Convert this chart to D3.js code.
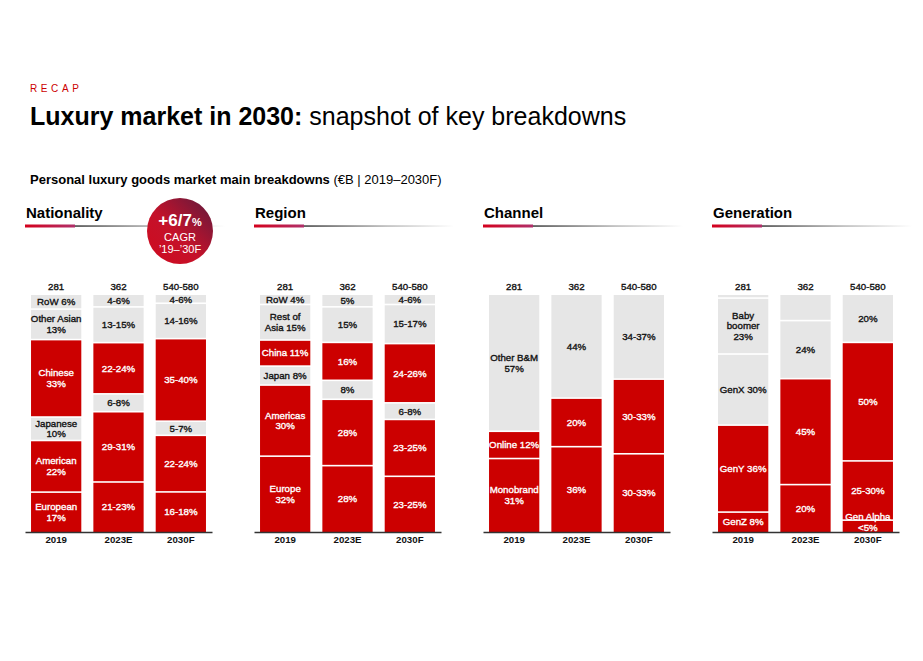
<!DOCTYPE html>
<html><head><meta charset="utf-8">
<script src="https://cdn.jsdelivr.net/npm/d3@7/dist/d3.min.js"></script>
<style>
body{margin:0;background:#fff;}
svg{font-family:"Liberation Sans",Arial,sans-serif;}
</style></head>
<body><svg id="chart" width="923" height="661"></svg>
<script>
// ---------- DATA ----------
const years = ["2019", "2023E", "2030F"];
const totals = ["281", "362", "540-580"];
const panels = ["Nationality", "Region", "Channel", "Generation"];
const redCategories = ["European","American","Chinese","Europe","Americas","China","Monobrand","Online","Gen Alpha","GenZ","GenY"];

// segments listed bottom -> top for each year
const nationalityCats = [
  ["European","American","Japanese","Chinese","Other Asian","RoW"],
  ["European","American","Japanese","Chinese","Other Asian","RoW"],
  ["European","American","Japanese","Chinese","Other Asian","RoW"]
];
const nationalityValues = [
  [17, 22, 10, 33, 13, 6],
  [21, 29.5, 7.5, 21.5, 15, 5],
  [17, 24, 6, 35, 15, 3.5]
];
const nationalityLabels = [
  ["European\n17%","American\n22%","Japanese\n10%","Chinese\n33%","Other Asian\n13%","RoW 6%"],
  ["21-23%","29-31%","6-8%","22-24%","13-15%","4-6%"],
  ["16-18%","22-24%","5-7%","35-40%","14-16%","4-6%"]
];

const regionCats = [
  ["Europe","Americas","Japan","China","Rest of Asia","RoW"],
  ["Europe","Americas","Japan","China","Rest of Asia","RoW"],
  ["Europe","Americas","Japan","China","Rest of Asia","RoW"]
];
const regionValues = [
  [32, 30, 8, 11, 15, 4],
  [28, 28, 8, 16, 15, 5],
  [23.5, 24, 7, 25, 16.5, 4]
];
const regionLabels = [
  ["Europe\n32%","Americas\n30%","Japan 8%","China 11%","Rest of\nAsia 15%","RoW 4%"],
  ["28%","28%","8%","16%","15%","5%"],
  ["23-25%","23-25%","6-8%","24-26%","15-17%","4-6%"]
];

const channelCats = [
  ["Monobrand","Online","Other B&M"],
  ["Monobrand","Online","Other B&M"],
  ["Monobrand","Online","Other B&M"]
];
const channelValues = [
  [31, 11.5, 57.5],
  [36, 20.5, 43.5],
  [33, 31.5, 35.5]
];
const channelLabels = [
  ["Monobrand\n31%","Online 12%","Other B&M\n57%"],
  ["36%","20%","44%"],
  ["30-33%","30-33%","34-37%"]
];

const generationCats = [
  ["GenZ","GenY","GenX","Baby boomer","Silent"],
  ["GenZ","GenY","GenX","Baby boomer"],
  ["Gen Alpha","GenZ","GenY","GenX"]
];
const generationValues = [
  [8.4, 36.7, 30, 23.6, 1.3],
  [20, 44.7, 24.5, 10.8],
  [5, 25, 50, 20]
];
const generationLabels = [
  ["GenZ 8%","GenY 36%","GenX 30%","Baby\nboomer\n23%",""],
  ["20%","45%","24%",""],
  ["Gen Alpha\n<5%","25-30%","50%","20%"]
];

const cagrMain = "+6/7";
const cagrLines = ["CAGR", "\u201919\u2013\u201930F"];

// ---------- DRAW ----------
const panelData = [
  {cats: nationalityCats, values: nationalityValues, labels: nationalityLabels},
  {cats: regionCats, values: regionValues, labels: regionLabels},
  {cats: channelCats, values: channelValues, labels: channelLabels},
  {cats: generationCats, values: generationValues, labels: generationLabels}
];

const RED = "#cc0000", GRAY = "#e6e6e6";
const svg = d3.select("#chart");
const defs = svg.append("defs");

const gRed = defs.append("linearGradient").attr("id","ulRed");
gRed.append("stop").attr("offset","0%").attr("stop-color","#d4001c");
gRed.append("stop").attr("offset","100%").attr("stop-color","#b0306a");
const gGray = defs.append("linearGradient").attr("id","ulGray");
gGray.append("stop").attr("offset","0%").attr("stop-color","#3a3a3a");
gGray.append("stop").attr("offset","55%").attr("stop-color","#b5b5b5");
gGray.append("stop").attr("offset","100%").attr("stop-color","#ffffff");
const gCirc = defs.append("linearGradient").attr("id","circ")
  .attr("x1","0").attr("y1","1").attr("x2","1").attr("y2","0");
gCirc.append("stop").attr("offset","0%").attr("stop-color","#d00a1e");
gCirc.append("stop").attr("offset","45%").attr("stop-color","#c4122a");
gCirc.append("stop").attr("offset","100%").attr("stop-color","#5e1a3e");

// header
svg.append("text").attr("x",30).attr("y",92).attr("fill",RED)
  .attr("font-size",10).attr("letter-spacing","3.6px").text("RECAP");
const t = svg.append("text").attr("x",30).attr("y",125).attr("font-size",25).attr("fill","#000");
t.append("tspan").attr("font-weight","bold").text("Luxury market in 2030:");
t.append("tspan").text(" snapshot of key breakdowns");
const st = svg.append("text").attr("x",30).attr("y",184).attr("font-size",13).attr("fill","#000");
st.append("tspan").attr("font-weight","bold").text("Personal luxury goods market main breakdowns");
st.append("tspan").text(" (\u20acB | 2019\u20132030F)");

// scales
const panelX = d3.scaleBand().domain(panels).range([25, 25 + 229*4]).paddingInner(0).paddingOuter(0);
const xBar = d3.scaleBand().domain(years).range([0, 187]).paddingInner(12/62).paddingOuter(6/62);
const y = d3.scaleLinear().domain([0, 1]).range([532, 295]);
const color = c => redCategories.includes(c) ? RED : GRAY;
const LH = 10.7;

function semibold(sel, fill) {
  return sel.attr("font-size", 9.7).attr("font-weight","normal").attr("fill", fill)
    .attr("stroke", fill).attr("stroke-width", 0.35).attr("paint-order","stroke");
}

panels.forEach((p, pi) => {
  const x0 = panelX(p);
  const g = svg.append("g").attr("transform", `translate(${x0},0)`);
  g.append("text").attr("x",1).attr("y",217.5).attr("font-size",15).attr("font-weight","bold").text(p);
  g.append("rect").attr("x",0).attr("y",224.5).attr("width",50).attr("height",3).attr("fill","url(#ulRed)");
  g.append("rect").attr("x",50).attr("y",225.3).attr("width",150).attr("height",1.5).attr("fill","url(#ulGray)");

  const d = panelData[pi];
  years.forEach((yr, yi) => {
    const vals = d.values[yi];
    const total = d3.sum(vals);
    const cum = [0, ...d3.cumsum(vals)].map(v => v / total);
    const bx = xBar(yr), bw = xBar.bandwidth();
    const segs = vals.map((v, i) => ({cat: d.cats[yi][i], label: d.labels[yi][i], s: cum[i], e: cum[i+1], i, n: vals.length}));
    const bg = g.append("g");
    bg.selectAll("rect").data(segs).join("rect")
      .attr("x", bx).attr("width", bw)
      .attr("y", s => y(s.e) + (s.i === s.n - 1 ? 0 : 0.8))
      .attr("height", s => (y(s.s) - y(s.e)) - (s.i === s.n - 1 ? 0 : 0.8) - (s.i === 0 ? 0 : 0.8))
      .attr("fill", s => color(s.cat));
    segs.forEach(s => {
      if (!s.label) return;
      const lines = s.label.split("\n");
      const top = y(s.e), bot = y(s.s);
      const h = bot - top;
      const bh = lines.length * LH;
      let cy = (top + bot) / 2;
      if (bh > h + 6) cy = bot - bh / 2 + 1;
      const tx = semibold(bg.append("text").attr("text-anchor","middle"), color(s.cat) === RED ? "#fff" : "#111");
      lines.forEach((ln, li) => {
        tx.append("tspan").attr("x", bx + bw/2)
          .attr("y", cy + (li - (lines.length - 1)/2) * LH).attr("dy","0.35em").text(ln);
      });
    });
    semibold(g.append("text").attr("x", bx + bw/2).attr("y", 287).attr("dy","0.35em")
      .attr("text-anchor","middle"), "#111").text(totals[yi]);
  });

  const ax = g.append("g").attr("transform","translate(0,532)")
    .call(d3.axisBottom(xBar).tickSize(0).tickSizeOuter(0).tickPadding(4));
  ax.select(".domain").attr("stroke","#333").attr("stroke-width",1.5);
  ax.selectAll("text").attr("font-size",9.7).attr("font-weight","bold").attr("fill","#111")
    .attr("font-family","Liberation Sans, Arial, sans-serif");
});

// CAGR bubble
const cg = svg.append("g").attr("transform","translate(180,231)");
cg.append("circle").attr("r",33).attr("fill","url(#circ)");
const ct = cg.append("text").attr("text-anchor","middle").attr("y",-5.5).attr("fill","#fff");
ct.append("tspan").attr("font-size",17).attr("font-weight","bold").text(cagrMain);
ct.append("tspan").attr("font-size",11).attr("font-weight","bold").text("%");
cg.append("text").attr("text-anchor","middle").attr("y",10).attr("fill","#fff").attr("font-size",11).text(cagrLines[0]);
cg.append("text").attr("text-anchor","middle").attr("y",21.5).attr("fill","#fff").attr("font-size",11).text(cagrLines[1]);
</script></body></html>
